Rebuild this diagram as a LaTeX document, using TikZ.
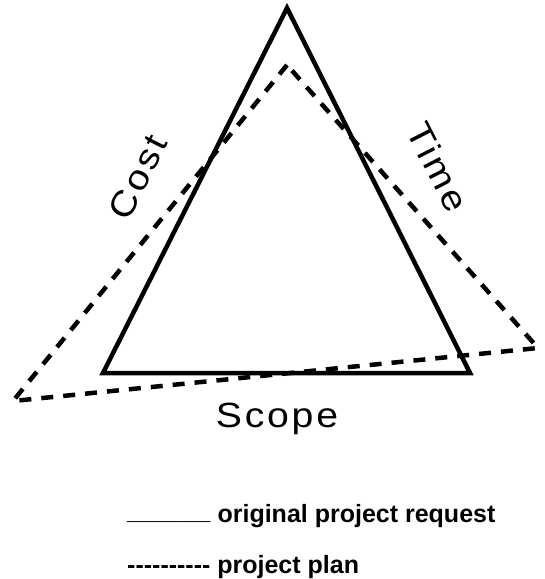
\documentclass[tikz,border=0pt]{standalone}
\usepackage{fontspec}
\setmainfont{Liberation Sans}
\begin{document}
\begin{tikzpicture}[x=1pt,y=-1pt,
  solidline/.style={line width=4.5pt,line join=miter},
  dashline/.style={line width=4.5pt,dash pattern=on 12pt off 10pt},
  bigtext/.style={font=\fontsize{35}{42}\selectfont\addfontfeatures{LetterSpace=7},inner sep=0pt,xscale=1.12},
  legtext/.style={font=\fontsize{25}{30}\selectfont\bfseries,inner sep=0pt,anchor=base west}]
\useasboundingbox (0,0) rectangle (545,579);
\coordinate (A) at (287,8);
\coordinate (B) at (103,373);
\coordinate (C) at (470,373);
\coordinate (P) at (287,65);
\coordinate (Q) at (13,401);
\coordinate (R) at (538,348);
\draw[solidline] (A) -- (B) -- (C) -- cycle;
\draw[dashline] (P) -- (Q) -- (R) -- cycle;
\node[rotate=63,bigtext] (cost) at (138,177) {Cost};
\node[rotate=-63,bigtext] (time) at (438,167) {Time};
\node[bigtext,anchor=base] (scope) at (277,427) {Scope};
\node[legtext] (leg1) at (127,522) {\raisebox{2.5pt}{\_\_\_\_\_\_} original project request};
\node[legtext] (leg2) at (127,573) {-{}-{}-{}-{}-{}-{}-{}-{}-{}- project plan};
\end{tikzpicture}
\end{document}
